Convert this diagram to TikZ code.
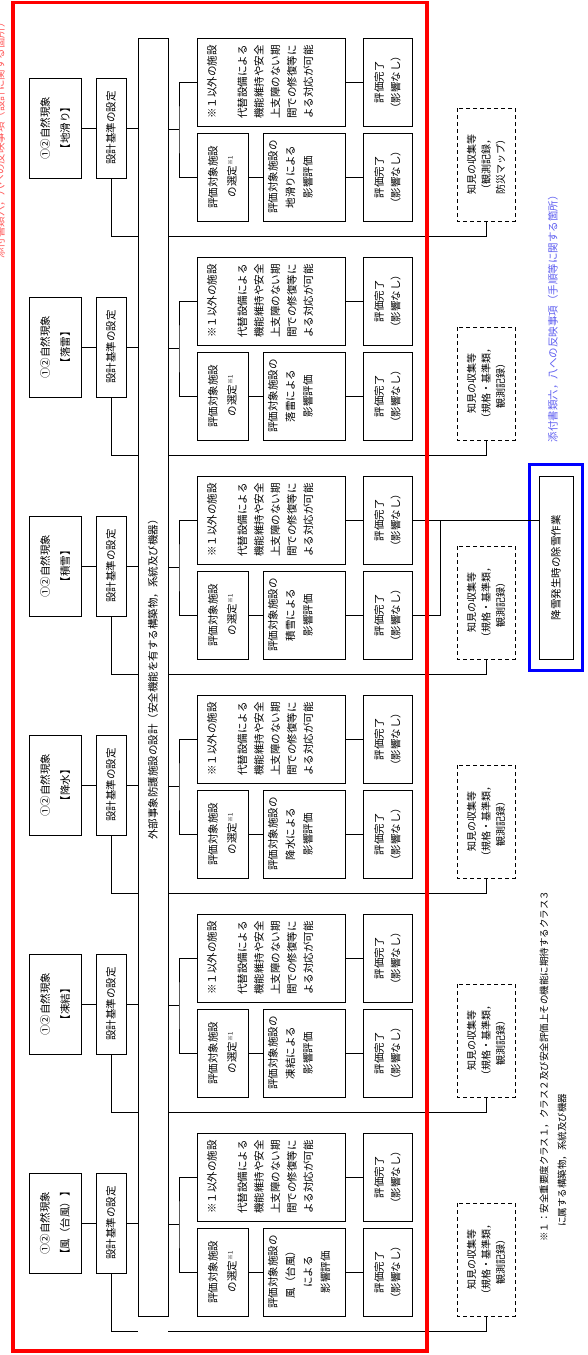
\documentclass[tikz,border=0pt]{standalone}
\usepackage{fontspec}
\setmainfont{Noto Sans CJK JP}
\usetikzlibrary{fit}
\definecolor{notered}{RGB}{255,90,90}
\definecolor{noteblue}{RGB}{95,95,240}
\tikzset{
  box/.style={draw,line width=0.9pt,fill=white,rotate=90,inner sep=0pt,align=center,font=\fontsize{10.5}{16.5}\selectfont},
  infobox/.style={box,dashed,dash pattern=on 4pt off 3pt,font=\fontsize{10}{14.5}\selectfont},
  link/.style={line width=0.8pt},
}
\begin{document}
\begin{tikzpicture}[x=1pt,y=-1pt]
\useasboundingbox (0,0) rectangle (588,1355);
% Evaluation flow for natural phenomena (drawn in page coordinates, text turned)
\node[box,minimum width=1278pt,minimum height=30pt] (facility) at (153,677) {外部事象防護施設の設計（安全機能を有する構築物，系統及び機器）};
\foreach \k/\ph/\ev/\inf in {
  0/地滑り/{評価対象施設の\\地滑りによる\\影響評価}/{（観測記録，\\防災マップ）},
  1/落雷/{評価対象施設の\\落雷による\\影響評価}/{（規格・基準類，\\観測記録）},
  2/積雪/{評価対象施設の\\積雪による\\影響評価}/{（規格・基準類，\\観測記録）},
  3/降水/{評価対象施設の\\降水による\\影響評価}/{（規格・基準類，\\観測記録）},
  4/凍結/{評価対象施設の\\凍結による\\影響評価}/{（規格・基準類，\\観測記録）},
  5/風（台風）/{評価対象施設の\\風（台風）\\による\\影響評価}/{（規格・基準類，\\観測記録）}} {
  \pgfmathsetmacro{\dy}{219*\k}
  \node[box,minimum width=100pt,minimum height=52pt,font=\fontsize{10.5}{20}\selectfont] (title\k) at (55,128+\dy) {①②自然現象\\【\ph】};
  \node[box,minimum width=100pt,minimum height=30pt] (basis\k) at (111,128+\dy) {設計基準の設定};
  \node[box,minimum width=88pt,minimum height=148pt] (other\k) at (271,82+\dy) {\parbox[c][128pt][t]{84pt}{\centering ※１以外の施設\\[14pt]代替設備による\\機能維持や安全\\上支障のない期\\間での修復等に\\よる対応が可能}};
  \node[box,minimum width=88pt,minimum height=49pt] (doneA\k) at (387.5,82+\dy) {評価完了\\（影響なし）};
  \node[box,minimum width=88pt,minimum height=51pt,font=\fontsize{10.5}{19}\selectfont] (select\k) at (222.5,177+\dy) {評価対象施設\\の選定\raisebox{0.6ex}{\fontsize{6}{6}\selectfont ※1}};
  \node[box,minimum width=88pt,minimum height=82pt,font=\fontsize{10.5}{17.5}\selectfont] (impact\k) at (304,177+\dy) {\parbox[c][72pt][t]{84pt}{\centering \ev}};
  \node[box,minimum width=88pt,minimum height=49pt] (doneB\k) at (387.5,177+\dy) {評価完了\\（影響なし）};
  \node[infobox,minimum width=113pt,minimum height=58pt] (info\k) at (486,164.5+\dy) {知見の収集等\\\inf};
  \coordinate (fork\k) at (179,129.5+\dy);
  \coordinate (low\k) at (486,236+\dy);
  \draw[link] (title\k) -- (basis\k) -- (basis\k -| facility.north);
  \draw[link] (facility.south |- fork\k) -- (fork\k);
  \draw[link] (other\k) -| (fork\k) |- (select\k);
  \draw[link] (other\k) -- (doneA\k);
  \draw[link] (select\k) -- (impact\k) -- (doneB\k);
  \draw[link] (basis\k) |- (facility.north |- low\k);
  \draw[link] (facility.south |- low\k) -- (low\k) -- (info\k);
}
% snow removal work
\node[box,minimum width=183pt,minimum height=34pt] (snow) at (556,567.5) {降雪発生時の除雪作業};
\node[fit=(snow),draw=blue,line width=3.5pt,inner xsep=9pt,inner ysep=11pt] (snowframe) {};
\coordinate (snowjoin) at (440,520);
\draw[link] (doneA2) -- (doneA2 -| snow.north);
\draw[link] (doneB2) -| (snowjoin);
% notes
\node[rotate=90,inner sep=0pt,text=notered,font=\fontsize{10.5}{12}\selectfont] (designnote) at (0,138) {添付書類六，八への反映事項（設計に関する箇所）};
\node[rotate=90,inner sep=0pt,text=noteblue,font=\fontsize{10.5}{12}\selectfont] (procnote) at (553,316) {添付書類六，八への反映事項（手順等に関する箇所）};
\node[rotate=90,inner sep=0pt,anchor=north west,align=left,font=\fontsize{9.5}{18}\selectfont] (footnote) at (539.5,1242) {※１：安全重要度クラス１，クラス２及び安全評価上その機能に期待するクラス３\\\hspace*{15pt}に属する構築物，系統及び機器};
\draw[red,line width=3.5pt] (13,2.5) rectangle (427,1351);
\end{tikzpicture}
\end{document}
